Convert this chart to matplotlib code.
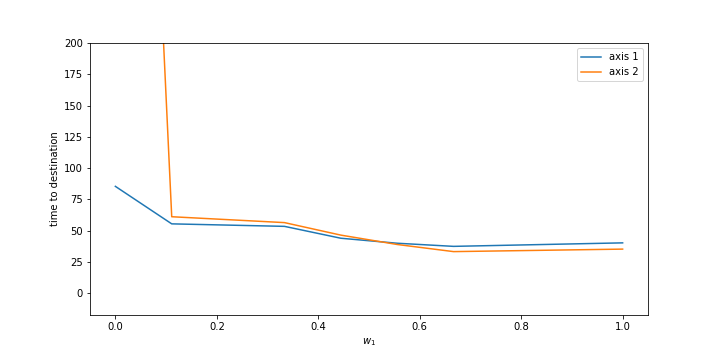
import matplotlib
matplotlib.use("Agg")
import matplotlib.pyplot as plt

w1 = [0.0, 1/9, 3/9, 4/9, 5/9, 6/9, 1.0]
axis1 = [85.5, 55.5, 53.5, 44, 40, 37.5, 40.3]
axis2 = [1020, 61.2, 56.5, 46.5, 39, 33.3, 35.3]

fig, ax = plt.subplots(figsize=(10, 5), dpi=72)
fig.subplots_adjust(left=0.125, right=0.9, top=0.88, bottom=0.125)
ax.plot(w1, axis1, label="axis 1")
ax.plot(w1, axis2, label="axis 2")
ax.set_ylim(-17.4, 200)
ax.set_xlim(-0.05, 1.05)
ax.set_xlabel("$w_1$")
ax.set_ylabel("time to destination")
ax.legend(loc="upper right")
fig.savefig("out.png", dpi=72)
